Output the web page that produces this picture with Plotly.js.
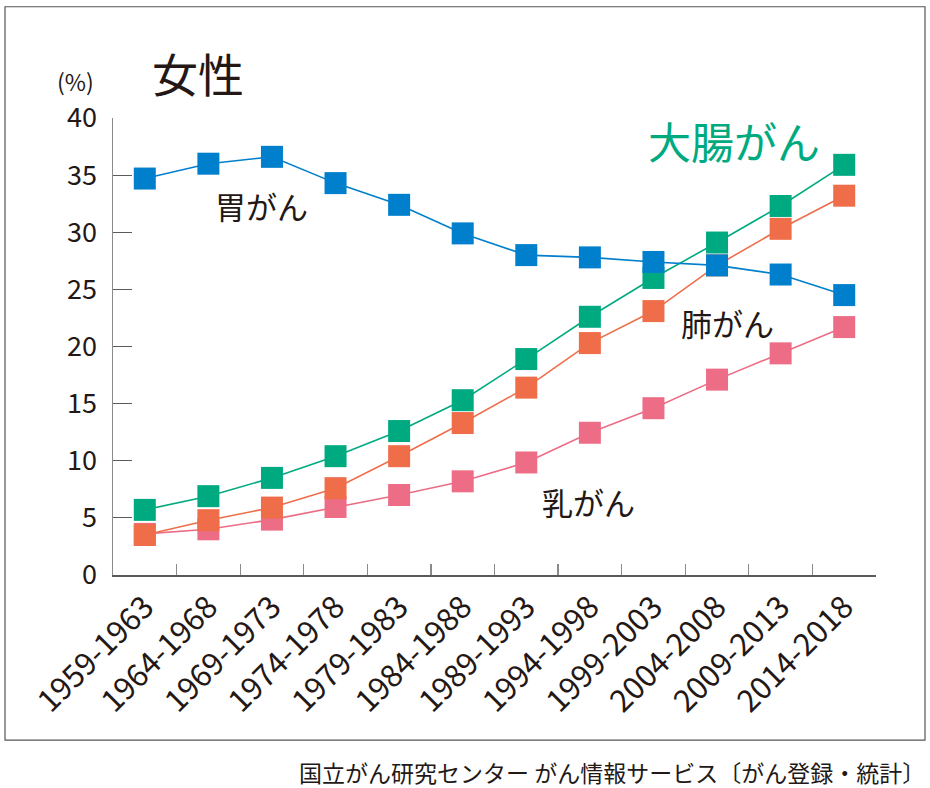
<!DOCTYPE html>
<html>
<head>
<meta charset="utf-8">
<script src="https://cdn.plot.ly/plotly-3.0.1.min.js"></script>
<style>
html,body{margin:0;padding:0;background:#fff;}
#chart{width:930px;height:788px;}
</style>
</head>
<body>
<div id="chart"></div>
<script>
const categories = ['1959-1963','1964-1968','1969-1973','1974-1978','1979-1983','1984-1988','1989-1993','1994-1998','1999-2003','2004-2008','2009-2013','2014-2018'];
const breast     = [3.6, 4.0, 4.85, 5.95, 7.0, 8.2, 9.85, 12.45, 14.6, 17.1, 19.4, 21.7];
const lung       = [3.5, 4.8, 5.9, 7.6, 10.4, 13.3, 16.4, 20.3, 23.1, 27.1, 30.3, 33.2];
const colorectal = [5.7, 6.9, 8.5, 10.4, 12.6, 15.3, 18.9, 22.6, 26.0, 29.1, 32.3, 35.9];
const stomach    = [34.7, 36.0, 36.6, 34.3, 32.4, 29.9, 28.0, 27.8, 27.4, 27.1, 26.3, 24.5];
const yTicks = [0, 5, 10, 15, 20, 25, 30, 35, 40];

const FONT = '"Noto Sans CJK JP", "Noto Sans", sans-serif';
const INK = '#231815';

// plot area in pixels
const L = 113, R = 876, T = 117.5, B = 575.5;
const W = 930, H = 788;
function px(x, y) { return {x: (x - L) / (R - L), y: (B - y) / (B - T)}; }

function series(y, color) {
  return {
    x: categories, y: y, type: 'scatter', mode: 'lines+markers',
    line: {color: color, width: 1.6},
    marker: {symbol: 'square', size: 22, color: color, line: {width: 0}},
    cliponaxis: false, hoverinfo: 'skip'
  };
}

const data = [
  series(breast, '#ec6d85'),
  series(lung, '#ef6e49'),
  series(colorectal, '#00aa80'),
  series(stomach, '#007fcc')
];

function ann(text, cx, cy, size, color, xanchor) {
  const p = px(cx, cy);
  return {text: text, x: p.x, y: p.y, xref: 'paper', yref: 'paper',
    xanchor: xanchor || 'center', yanchor: 'middle', showarrow: false, borderpad: 0,
    font: {family: FONT, size: size, color: color || INK}};
}

const b0 = px(5, 6), b1 = px(925, 741);

const layout = {
  width: W, height: H,
  margin: {l: L, r: W - R, t: T, b: H - B, pad: 0},
  paper_bgcolor: '#fff', plot_bgcolor: '#fff',
  showlegend: false,
  font: {family: FONT, color: INK},
  xaxis: {
    type: 'category', range: [-0.5, 11.5], fixedrange: true,
    showgrid: false, zeroline: false,
    showline: true, linecolor: '#5a5a5a', linewidth: 1.5,
    ticks: 'inside', tickson: 'boundaries', ticklen: 11, tickcolor: '#8a8a8a', tickwidth: 1.2,
    tickangle: -45, tickfont: {family: FONT, size: 31, color: INK},
    ticklabelstandoff: 0
  },
  yaxis: {
    range: [0, 40], fixedrange: true,
    tickvals: yTicks, ticktext: yTicks.map(String),
    showgrid: false, zeroline: false,
    showline: true, linecolor: '#8a8a8a', linewidth: 1.5,
    ticks: 'inside', ticklen: 19, tickcolor: '#5a5a5a', tickwidth: 1.2,
    tickfont: {family: FONT, size: 27, color: INK},
    ticklabelstandoff: 9
  },
  shapes: [{
    type: 'rect', xref: 'paper', yref: 'paper',
    x0: b0.x, y0: b0.y, x1: b1.x, y1: b1.y,
    line: {color: '#555', width: 1.2}, fillcolor: 'rgba(0,0,0,0)', layer: 'below'
  }],
  annotations: [
    ann('女性', 198, 71, 46),
    ann('(%)', 75, 80, 23),
    ann('大腸がん', 734, 140, 43, '#00aa80'),
    ann('胃がん', 261, 205, 31),
    ann('肺がん', 727, 322, 31),
    ann('乳がん', 588, 502, 31),
    ann('国立がん研究センター がん情報サービス〔がん登録・統計〕', 926, 773, 23, INK, 'right')
  ]
};

Plotly.newPlot('chart', data, layout, {displayModeBar: false, staticPlot: true});
</script>
</body>
</html>
